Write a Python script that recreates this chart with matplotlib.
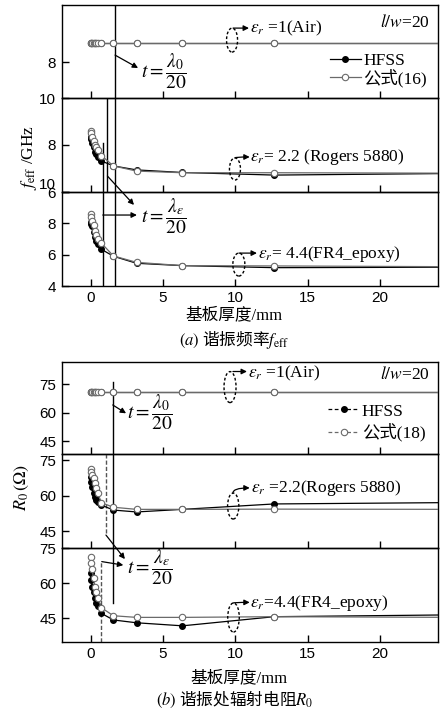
import matplotlib
matplotlib.use('Agg')
import matplotlib.pyplot as plt
from matplotlib.patches import Ellipse
from matplotlib.lines import Line2D

plt.rcParams['mathtext.fontset'] = 'stix'
plt.rcParams['font.family'] = ['Liberation Sans', 'Noto Sans CJK SC']

SERIF = ['Liberation Serif', 'Noto Sans CJK SC']

# ---------------- data ----------------
thickness = [0.0, 0.05, 0.1, 0.2, 0.3, 0.4, 0.5, 0.75, 1.575, 3.175, 6.35, 12.7, 25.4]

# (a) resonant frequency (GHz)
f_air_hfss = [8.63, 8.63, 8.63, 8.63, 8.63, 8.63, 8.63, 8.63, 8.63, 8.63, 8.63, 8.63, 8.63]
f_air_eq = [8.63, 8.63, 8.63, 8.63, 8.63, 8.63, 8.63, 8.63, 8.63, 8.63, 8.63, 8.63, 8.63]
f_22_hfss = [8.35, 8.25, 8.10, 7.90, 7.72, 7.60, 7.50, 7.32, 7.11, 6.94, 6.83, 6.72, 6.79]
f_22_eq = [8.60, 8.50, 8.32, 8.15, 8.00, 7.90, 7.80, 7.55, 7.11, 6.89, 6.82, 6.82, 6.80]
f_44_hfss = [8.10, 7.95, 7.85, 7.47, 7.10, 6.85, 6.70, 6.34, 5.90, 5.45, 5.30, 5.17, 5.20]
f_44_eq = [8.60, 8.39, 8.17, 7.89, 7.53, 7.26, 6.98, 6.73, 5.92, 5.51, 5.30, 5.28, 5.23]

# (b) radiation resistance (Ohm)
r_air_hfss = [71.0, 71.0, 71.0, 71.0, 71.0, 71.0, 71.0, 71.0, 71.0, 71.0, 71.0, 71.0, 71.0]
r_air_eq = [71.0, 71.0, 71.0, 71.0, 71.0, 71.0, 71.0, 71.0, 71.0, 71.0, 71.0, 71.0, 71.0]
r_22_hfss = [68.0, 66.0, 63.5, 61.0, 59.3, 58.2, 57.4, 56.0, 53.9, 53.1, 54.2, 56.5, 57.1]
r_22_eq = [71.3, 70.2, 68.8, 67.4, 65.3, 63.1, 61.0, 57.0, 55.1, 54.2, 54.2, 54.3, 54.2]
r_44_hfss = [64.2, 61.3, 58.5, 56.3, 53.5, 51.4, 50.4, 47.1, 44.3, 43.1, 41.8, 45.7, 46.5]
r_44_eq = [71.3, 68.5, 66.0, 62.1, 58.5, 56.1, 53.5, 49.5, 46.1, 45.4, 45.4, 45.7, 45.4]

x_ticks = [0, 5, 10, 15, 20]
f_ticks_top = [6, 8, 10]
f_ticks_mid = [6, 8, 10]
f_ticks_bot = [4, 6, 8, 10]
r_ticks = [45, 60, 75]

# ---------------- figure ----------------
W, H = 441, 715
fig = plt.figure(figsize=(W / 100, H / 100), dpi=100, facecolor='white')

L_PX, R_PX = 61.7, 437.7


def make_axes(top, bottom, yticks, ylim):
    ax = fig.add_axes([L_PX / W, 1 - bottom / H, (R_PX - L_PX) / W, (bottom - top) / H])
    ax.set_facecolor('none')
    for s in ax.spines.values():
        s.set_linewidth(1.0)
    ax.set_xticks(x_ticks)
    ax.set_yticks(yticks)
    ax.set_xlim(-2, 24)
    ax.set_ylim(*ylim)
    ax.tick_params(direction='in', length=5, width=1.0, labelsize=11,
                   top=False, right=False, pad=4)
    ax.tick_params(axis='x', pad=3.5)
    return ax


GRAY = '#6a6a6a'


def plot_pair(ax, y_hfss, y_eq):
    ax.plot(thickness, y_hfss, '-', color='black', lw=0.9, marker='o', ms=4.0,
            mfc='black', mec='black', zorder=3, clip_on=True)
    ax.plot(thickness, y_eq, '-', color=GRAY, lw=0.9, marker='o', ms=4.6,
            mfc='white', mec=GRAY, mew=0.8, zorder=4, clip_on=True)


def eps_label(ax, ell_xy, ell_w, ell_h, arr_from, arr_to, text_xy, text):
    ax.add_patch(Ellipse(ell_xy, ell_w, ell_h, fill=False, ls=(0, (2, 1.5)),
                         lw=1.0, ec='black', zorder=5))
    ax.annotate('', xy=arr_to, xytext=arr_from,
                arrowprops=dict(arrowstyle='-|>', color='black', lw=0.9,
                                mutation_scale=8, shrinkA=0, shrinkB=0,
                                connectionstyle='angle3,angleA=90,angleB=0'),
                annotation_clip=False)
    ax.text(text_xy[0], text_xy[1], text, family=SERIF, fontsize=12.5,
            ha='left', va='center')


def arrow(ax, p_from, p_to):
    ax.annotate('', xy=p_to, xytext=p_from,
                arrowprops=dict(arrowstyle='-|>', color='black', lw=0.9,
                                mutation_scale=8, shrinkA=0, shrinkB=0),
                annotation_clip=False)


FRAC_SIZE = 14

# ======== (a) ========
a1 = make_axes(5, 98, f_ticks_top, (6.8, 9.9))
a2 = make_axes(98, 192, f_ticks_mid, (6, 10))
a3 = make_axes(192, 286, f_ticks_bot, (4, 10))
for ax in (a1, a2):
    ax.tick_params(labelbottom=False)
# the "10" of the lowest panel sits just above the "6" of the middle panel
a3.get_yticklabels()[-1].set_va('bottom')

plot_pair(a1, f_air_hfss, f_air_eq)
plot_pair(a2, f_22_hfss, f_22_eq)
plot_pair(a3, f_44_hfss, f_44_eq)

for ax in (a1, a2, a3):
    ax.axvline(1.66, color='black', lw=1.0, zorder=2)
a2.axvline(1.11, color='black', lw=1.0, zorder=2)
a2.axvline(0.84, ymin=0, ymax=0.52, color='black', lw=1.0, zorder=2)
a3.axvline(0.84, color='black', lw=1.0, zorder=2)

a1.text(23.47, 9.33, r'$l/w$=20', family=SERIF, fontsize=12.5, ha='right', va='center')
arrow(a1, (1.69, 8.23), (3.28, 7.80))
a1.text(3.45, 7.7, r'$t=\dfrac{\lambda_0}{20}$', fontsize=FRAC_SIZE, ha='left', va='center')
eps_label(a1, (9.78, 8.73), 0.76, 0.80, (9.85, 9.13), (10.95, 9.13), (11.0, 9.13),
          r'$\varepsilon_r$ =1(Air)')
eps_label(a2, (9.98, 6.98), 0.76, 0.94, (9.98, 7.45), (11.0, 7.49), (11.05, 7.49),
          r'$\varepsilon_r$= 2.2 (Rogers 5880)')
eps_label(a3, (10.25, 5.37), 0.83, 1.47, (10.25, 6.10), (11.5, 6.10), (11.55, 6.04),
          r'$\varepsilon_r$= 4.4(FR4_epoxy)')
arrow(a2, (1.16, 6.68), (3.0, 5.45))
arrow(a3, (0.84, 8.53), (3.2, 8.53))
a3.text(3.45, 8.47, r'$t=\dfrac{\lambda_\varepsilon}{20}$', fontsize=FRAC_SIZE, ha='left', va='center')

hA = [Line2D([], [], color='black', lw=0.9, marker='o', ms=4.0, mfc='black'),
      Line2D([], [], color=GRAY, lw=0.9, marker='o', ms=4.6, mfc='white', mec=GRAY, mew=0.8)]
a1.legend(hA, ['HFSS', '公式(16)'], loc='center left', bbox_to_anchor=(0.714, 0.30),
          frameon=False, borderpad=0, borderaxespad=0, handlelength=1.75,
          handletextpad=0.15, labelspacing=0.0, prop={'family': SERIF, 'size': 12.5})

fig.text(29 / W, 1 - 157 / H, r'$f_{\rm eff}$ /GHz', family=SERIF, fontsize=12.5,
         rotation=90, ha='center', va='center')
fig.text(234 / W, 1 - 315 / H, '基板厚度/mm', family=SERIF, fontsize=12,
         ha='center', va='center')
fig.text(234.5 / W, 1 - 340 / H, r'$(\mathit{a})$ 谐振频率$f_{\rm eff}$',
         family=['Noto Sans CJK SC'], fontsize=12, ha='center', va='center')

# ======== (b) ========
b1 = make_axes(362, 454, r_ticks, (38.2, 86.6))
b2 = make_axes(454, 548, r_ticks, (37.8, 77.7))
b3 = make_axes(548, 642, r_ticks, (34.9, 75))
for ax in (b1, b2):
    ax.tick_params(labelbottom=False)

plot_pair(b1, r_air_hfss, r_air_eq)
plot_pair(b2, r_22_hfss, r_22_eq)
plot_pair(b3, r_44_hfss, r_44_eq)

b1.axvline(1.53, ymin=0, ymax=0.783, color='black', lw=1.0, zorder=2)
b2.axvline(1.53, color='black', lw=1.0, zorder=2)
b3.axvline(1.53, ymin=0.415, ymax=1, color='black', lw=1.0, zorder=2)
b2.axvline(1.045, ymin=0.16, ymax=1, color='#555555', lw=1.0, ls=(0, (3, 1.5)), zorder=2)
b3.axvline(0.70, ymin=0, ymax=0.851, color='#555555', lw=1.0, ls=(0, (3, 1.5)), zorder=2)

b1.text(23.47, 79.8, r'$l/w$=20', family=SERIF, fontsize=12.5, ha='right', va='center')
arrow(b1, (1.53, 64.0), (2.45, 59.6))
b1.text(2.5, 60.3, r'$t=\dfrac{\lambda_0}{20}$', fontsize=FRAC_SIZE, ha='left', va='center')
eps_label(b1, (9.64, 73.4), 0.83, 16.3, (9.84, 81.6), (10.81, 81.6), (10.9, 80.8),
          r'$\varepsilon_r$ =1(Air)')
eps_label(b2, (9.86, 55.6), 0.78, 11.0, (9.84, 61.1), (11.0, 63.3), (11.1, 63.3),
          r'$\varepsilon_r$ =2.2(Rogers 5880)')
eps_label(b3, (9.88, 45.35), 0.80, 12.4, (9.84, 51.5), (11.0, 51.8), (11.05, 51.5),
          r'$\varepsilon_r$=4.4(FR4_epoxy)')
arrow(b2, (1.06, 43.3), (2.37, 33.1))
arrow(b3, (0.77, 69.2), (2.26, 67.7))
b3.text(2.5, 66.9, r'$t=\dfrac{\lambda_\varepsilon}{20}$', fontsize=FRAC_SIZE, ha='left', va='center')

hB = [Line2D([], [], color='black', lw=0.9, ls=(0, (3, 2)), marker='o', ms=4.0, mfc='black'),
      Line2D([], [], color=GRAY, lw=0.9, ls=(0, (3, 2)), marker='o', ms=4.6, mfc='white', mec=GRAY, mew=0.8)]
b1.legend(hB, ['HFSS', '公式(18)'], loc='center left', bbox_to_anchor=(0.708, 0.342),
          frameon=False, borderpad=0, borderaxespad=0, handlelength=1.8,
          handletextpad=0.15, labelspacing=0.2, prop={'family': SERIF, 'size': 12.5})

fig.text(22 / W, 1 - 487 / H, r'$R_0\,(\Omega)$', family=SERIF, fontsize=13,
         rotation=90, ha='center', va='center')
fig.text(239 / W, 1 - 678 / H, '基板厚度/mm', family=SERIF, fontsize=12,
         ha='center', va='center')
fig.text(235 / W, 1 - 699 / H, r'$(\mathit{b})$ 谐振处辐射电阻$R_0$',
         family=['Noto Sans CJK SC'], fontsize=12, ha='center', va='center')

fig.savefig('out.png', dpi=100, facecolor='white')
